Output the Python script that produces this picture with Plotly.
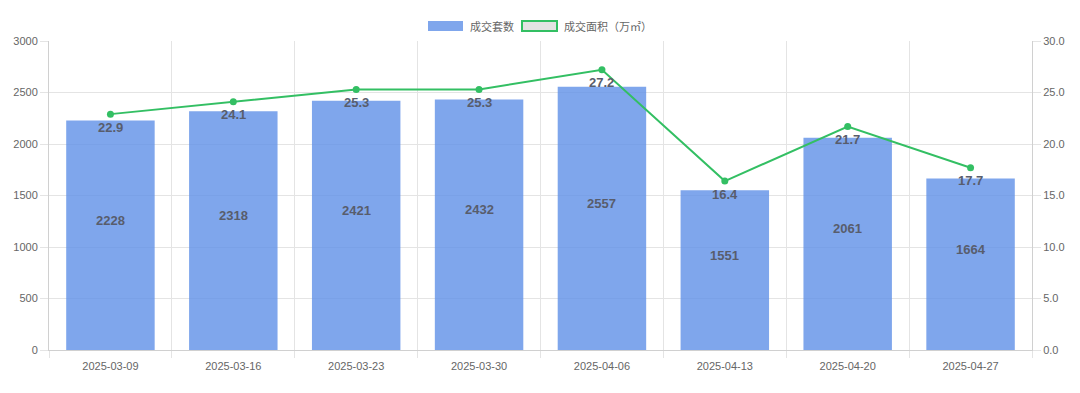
import plotly.graph_objects as go

categories = ["2025-03-09", "2025-03-16", "2025-03-23", "2025-03-30",
              "2025-04-06", "2025-04-13", "2025-04-20", "2025-04-27"]
units = [2228, 2318, 2421, 2432, 2557, 1551, 2061, 1664]
area = [22.9, 24.1, 25.3, 25.3, 27.2, 16.4, 21.7, 17.7]
left_ticks = [0, 500, 1000, 1500, 2000, 2500, 3000]
right_ticks = [0, 5, 10, 15, 20, 25, 30]

bar_color = "rgba(95,144,231,0.8)"
bar_legend = "#7fa6ec"
line_color = "#33bf63"
grid = "#e4e4e4"
axis_col = "#d0d0d0"
txt = "#666666"
label_col = "#585d6c"
font_main = "Arial, Liberation Sans, Noto Sans CJK SC, sans-serif"
font_cjk = "Noto Sans CJK SC, sans-serif"

xs = list(range(len(categories)))

fig = go.Figure()
fig.add_trace(go.Bar(
    x=xs, y=units, name="成交套数", marker=dict(color=bar_color, line=dict(width=0)),
    width=0.72, showlegend=False, yaxis="y", hoverinfo="x+y"))
fig.add_trace(go.Scatter(
    x=xs, y=area, name="成交面积（万㎡）", mode="lines+markers",
    line=dict(color=line_color, width=2), marker=dict(color=line_color, size=7),
    showlegend=False, yaxis="y2"))

# line value labels just below each point
for xi, v in zip(xs, area):
    fig.add_annotation(x=xi, y=v, xref="x", yref="y2", text=f"<b>{v:.1f}</b>",
                       showarrow=False, yshift=-13,
                       font=dict(color=label_col, size=13, family=font_main))

# bar value labels: centred on the bar, nudged up like the reference
for xi, v in zip(xs, units):
    fig.add_annotation(x=xi, y=v / 2, xref="x", yref="y", text=f"<b>{v}</b>",
                       showarrow=False, yshift=15,
                       font=dict(color=label_col, size=13, family=font_main))

# page body has an 8px margin: figure occupies x 8..1072, y 8..385
fig.update_layout(
    width=1064, height=377,
    margin=dict(l=41, r=40, t=33, b=35, autoexpand=False),
    paper_bgcolor="white", plot_bgcolor="white",
    font=dict(family=font_main, color=txt, size=11),
    xaxis=dict(
        tickmode="array", tickvals=xs, ticktext=categories, range=[-0.5, len(xs) - 0.5],
        showgrid=False, ticks="", showline=True, linecolor=axis_col, zeroline=False,
        tickfont=dict(size=11, color=txt), ticklabelstandoff=6,
        minor=dict(tick0=-0.5, dtick=1, showgrid=True, gridcolor=grid, ticks="outside",
                   ticklen=7, tickcolor=grid),
    ),
    yaxis=dict(
        range=[0, 3000], tickvals=left_ticks, showgrid=True, gridcolor=grid,
        ticks="outside", ticklen=8, tickcolor=grid, showline=True, linecolor=axis_col,
        zeroline=False, tickfont=dict(size=11, color=txt),
    ),
    yaxis2=dict(
        range=[0, 30], tickvals=right_ticks, tickformat=".1f", overlaying="y", side="right",
        showgrid=False, ticks="outside", ticklen=8, tickcolor=grid, showline=True,
        linecolor=axis_col, zeroline=False, tickfont=dict(size=11, color=txt),
    ),
    bargap=0.28,
)

# manual legend (Chart.js style boxes), positions in page pixels -> paper
def px_x(p):
    return (p - 49) / 983.0

def px_y(p):
    return (350 - p) / 309.0

fig.add_shape(type="rect", xref="paper", yref="paper", x0=px_x(428), x1=px_x(463),
              y0=px_y(31), y1=px_y(21), fillcolor=bar_legend, line=dict(width=0))
fig.add_shape(type="rect", xref="paper", yref="paper", x0=px_x(522), x1=px_x(557),
              y0=px_y(31), y1=px_y(21), fillcolor="#e3e3e3", line=dict(color=line_color, width=2))
fig.add_annotation(xref="paper", yref="paper", x=px_x(468), y=px_y(26), text="成交套数",
                   showarrow=False, xanchor="left", yanchor="middle",
                   font=dict(family=font_cjk, size=11, color=txt))
fig.add_annotation(xref="paper", yref="paper", x=px_x(562), y=px_y(26), text="成交面积（万㎡）",
                   showarrow=False, xanchor="left", yanchor="middle",
                   font=dict(family=font_cjk, size=11, color=txt))

fig.write_html("out.html")
